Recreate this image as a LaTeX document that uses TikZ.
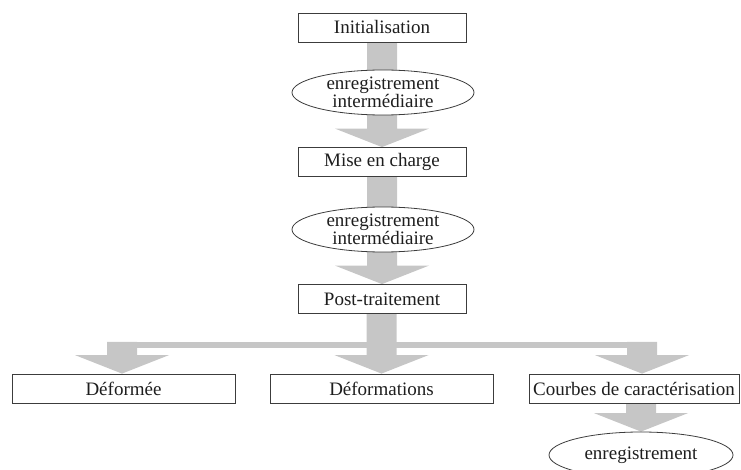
\documentclass[tikz,border=0pt]{standalone}
\usepackage{fontspec}
\setmainfont{Liberation Serif}
\usetikzlibrary{shapes.geometric,calc}
\pgfdeclarelayer{background}
\pgfsetlayers{background,main}
\definecolor{arrowgray}{RGB}{198,198,198}
\definecolor{linegray}{RGB}{60,60,60}
\definecolor{textgray}{RGB}{30,30,30}
\tikzset{
  stepbox/.style={draw=linegray, line width=0.8pt, fill=white, rectangle, inner sep=0pt,
    minimum height=29pt, text=textgray, font=\fontsize{19}{18}\selectfont},
  savebox/.style={draw=linegray, line width=0.8pt, fill=white, ellipse, inner sep=0pt,
    minimum width=182pt, minimum height=45pt, align=center, text=textgray,
    font=\fontsize{19}{18}\selectfont},
}
\newcommand{\blockarrow}[2]{%
  \fill[arrowgray] let \p1=(#1), \p2=(#2) in
   (\x2-15pt,\y1) -- (\x2+15pt,\y1) -- (\x2+15pt,\y2+18.5pt) -- (\x2+47pt,\y2+18.5pt)
   -- (\x2,\y2) -- (\x2-47pt,\y2+18.5pt) -- (\x2-15pt,\y2+18.5pt) -- cycle;}
\begin{document}
\begin{tikzpicture}[x=1pt,y=-1pt]
\useasboundingbox (0,0) rectangle (741,470);
% boxes and ellipses
\node[stepbox, minimum width=168pt] (init) at (382,27.5) {Initialisation};
\node[savebox] (e1) at (383,92.5) {enregistrement\\intermédiaire};
\node[stepbox, minimum width=168pt] (mise) at (382,162) {Mise en charge};
\node[savebox] (e2) at (383,229.5) {enregistrement\\intermédiaire};
\node[stepbox, minimum width=168pt] (post) at (382,299) {Post-traitement};
\node[stepbox, minimum width=223pt] (defo) at (123.5,388.5) {Déformée};
\node[stepbox, minimum width=223pt] (defs) at (381.5,388.5) {Déformations};
\node[stepbox, minimum width=210pt] (courbes) at (634,388.5) {Courbes de caractérisation};
\node[savebox, minimum width=184pt, minimum height=46pt] (e3) at (641,455) {enregistrement};
\coordinate (split) at ($(post.south)+(0,28)$);
\coordinate (tipR) at ($(courbes.north)+(8,0)$);
\coordinate (tipL) at ($(defo.north)+(-1.5,0)$);
% gray block arrows behind the nodes
\begin{pgfonlayer}{background}
\blockarrow{init.south}{mise.north}
\blockarrow{mise.south}{post.north}
\blockarrow{post.south}{defs.north}
\blockarrow{split}{tipL}
\blockarrow{split}{tipR}
\fill[arrowgray] let \p1=(split), \p2=(tipL), \p3=(tipR) in
  (\x2-15pt,\y1) rectangle (\x3+15pt,\y1-6pt);
\blockarrow{courbes.south}{e3.north}
\end{pgfonlayer}
\end{tikzpicture}
\end{document}
